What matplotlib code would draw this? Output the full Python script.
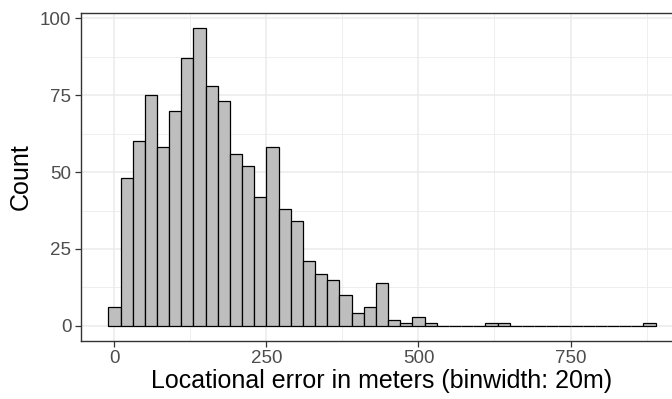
import matplotlib.pyplot as plt
import numpy as np

plt.rcParams["font.family"] = ["Liberation Sans", "DejaVu Sans"]

# histogram bins (binwidth 20 m), centres and counts
bin_centers = np.arange(0, 900, 20)
counts = [
    6, 48, 60, 75, 58, 70, 87, 97, 78, 73,
    56, 52, 42, 58, 38, 34, 21, 17, 15, 10,
    4, 6, 14, 2, 1, 3, 1, 0, 0, 0,
    0, 1, 1, 0, 0, 0, 0, 0, 0, 0,
    0, 0, 0, 0, 1,
]
binwidth = 20

x_ticks = [0, 250, 500, 750]
y_ticks = [0, 25, 50, 75, 100]

W, H = 672, 399
fig = plt.figure(figsize=(W / 100, H / 100), dpi=100)
left, right, top, bottom = 81, 683, 12.7, 340.7
ax = fig.add_axes([left / W, 1 - bottom / H, (right - left) / W, (bottom - top) / H])

grid_col = "#EBEBEB"
for v in x_ticks:
    ax.axvline(v, color=grid_col, lw=1.1, zorder=0)
for v in [125, 375, 625, 875]:
    ax.axvline(v, color=grid_col, lw=0.6, zorder=0)
for v in y_ticks:
    ax.axhline(v, color=grid_col, lw=1.1, zorder=0)
for v in [12.5, 37.5, 62.5, 87.5]:
    ax.axhline(v, color=grid_col, lw=0.6, zorder=0)

ax.bar(bin_centers, counts, width=binwidth, color="#BEBEBE",
       edgecolor="black", linewidth=0.9, zorder=2)

xmin, xmax = bin_centers[0] - binwidth / 2, bin_centers[-1] + binwidth / 2
pad = (xmax - xmin) * 0.05
ax.set_xlim(xmin - pad, xmax + pad)
ypad = max(counts) * 0.05
ax.set_ylim(-ypad, max(counts) + ypad)

ax.set_xticks(x_ticks)
ax.set_yticks(y_ticks)
ax.tick_params(colors="#333333", labelcolor="#4D4D4D", labelsize=13.5,
               length=4, width=0.9, pad=3)

for s in ax.spines.values():
    s.set_color("#333333")
    s.set_linewidth(1.0)

ax.set_xlabel("Locational error in meters (binwidth: 20m)", fontsize=18, labelpad=1)
ax.set_ylabel("Count", fontsize=18, labelpad=5)

fig.savefig("out.png", dpi=100)
